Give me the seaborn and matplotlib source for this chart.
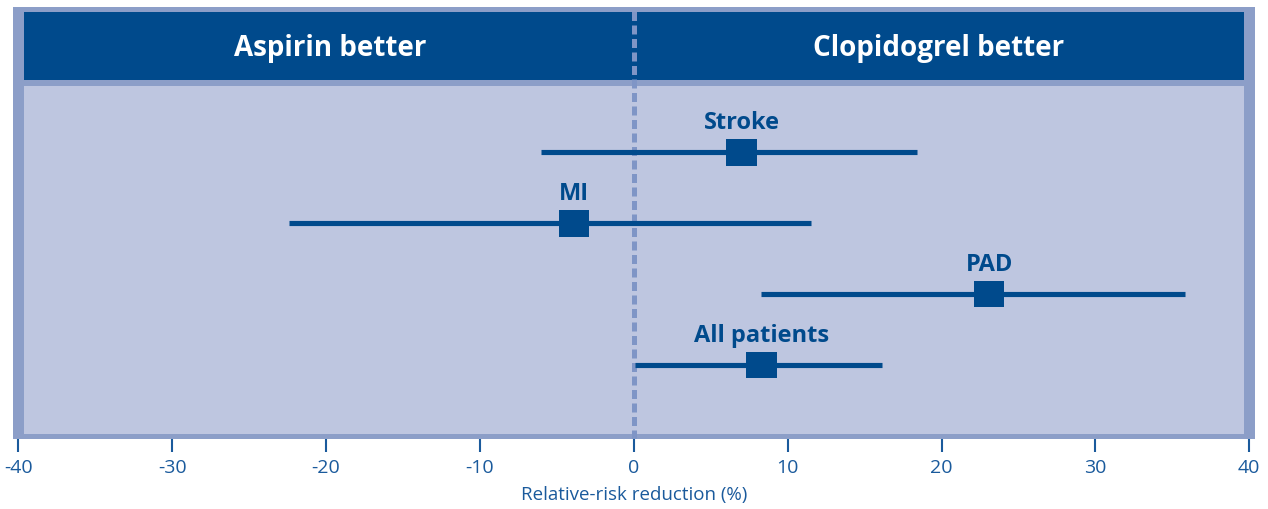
import numpy as np
import pandas as pd
import seaborn as sns
import matplotlib.pyplot as plt
from matplotlib.patches import Rectangle
from matplotlib.path import Path

# =============================================================================
# Data
# =============================================================================
outcomes = ["Stroke", "MI", "PAD", "All patients"]
rrr = [7.0, -3.9, 23.1, 8.3]
ci_low = [-6.0, -22.4, 8.3, 0.1]
ci_high = [18.4, 11.5, 35.8, 16.1]

x_ticks = [-40, -30, -20, -10, 0, 10, 20, 30, 40]
side_labels = ["Aspirin better", "Clopidogrel better"]
x_label = "Relative-risk reduction (%)"

df = pd.DataFrame({
    "Outcome": outcomes,
    "RRR": rrr,
    "Low": ci_low,
    "High": ci_high,
})
df["Row"] = np.arange(len(df))

# =============================================================================
# Style
# =============================================================================
dark_blue = "#004a8c"
frame_blue = "#8c9ec8"
inner_blue = "#bec6e0"
dash_blue = "#7f95c6"
tick_blue = "#1a5a9c"

sns.set_style("white")
plt.rcParams["font.family"] = ["Open Sans", "DejaVu Sans"]

W, H = 1268, 510
fig = plt.figure(figsize=(W / 100, H / 100), dpi=100)

# axes covers the outer frame (pixels 13..1255 x 8..440)
ax = fig.add_axes([13 / W, (H - 440) / H, (1255 - 13) / W, (440 - 8) / H])
ax.set_facecolor(frame_blue)

ax.set_xlim(-40.34, 40.37)
ax.set_ylim(4.04, -2.05)

# header band and inner panel (axes fraction coordinates)
ax.add_patch(Rectangle((0.0089, 0.831), 0.9823, 0.157, transform=ax.transAxes,
                       facecolor=dark_blue, edgecolor="none", zorder=1))
ax.add_patch(Rectangle((0.0089, 0.0116), 0.9823, 0.8055, transform=ax.transAxes,
                       facecolor=inner_blue, edgecolor="none", zorder=1))

# zero line
ax.axvline(0, ymin=0.0, ymax=0.995, color=dash_blue, linewidth=3.6,
           linestyle=(0, (1.8, 0.9)), zorder=2)

# header labels
ax.text(0.2555, 0.906, side_labels[0], transform=ax.transAxes, ha="center",
        va="center", color="white", fontsize=20, fontweight="bold", zorder=3)
ax.text(0.7455, 0.906, side_labels[1], transform=ax.transAxes, ha="center",
        va="center", color="white", fontsize=20, fontweight="bold", zorder=3)

# confidence intervals
ax.hlines(df["Row"], df["Low"], df["High"], color=dark_blue, linewidth=3.7, zorder=3)

# point estimates (slightly wide squares)
box = Path([(-15, -13), (15, -13), (15, 13), (-15, 13), (-15, -13)],
           [Path.MOVETO, Path.LINETO, Path.LINETO, Path.LINETO, Path.CLOSEPOLY])
sns.scatterplot(data=df, x="RRR", y="Row", marker=box, s=480, color=dark_blue,
                edgecolor="none", linewidth=0, ax=ax, zorder=4)

for _, row in df.iterrows():
    ax.text(row["RRR"], row["Row"] - 0.43, row["Outcome"], ha="center", va="center",
            color=dark_blue, fontsize=17, fontweight="bold", zorder=4)

# axis formatting
ax.set_xticks(x_ticks)
ax.set_xticklabels([str(t) for t in x_ticks])
ax.set_yticks([])
ax.set_ylabel("")
ax.set_xlabel(x_label, fontsize=13.5, color=tick_blue, labelpad=7)
ax.tick_params(axis="x", colors=tick_blue, labelsize=14, length=9.5, width=1.5,
               direction="out", pad=4, bottom=True)
for spine in ax.spines.values():
    spine.set_visible(False)

fig.savefig("out.png", dpi=100)
